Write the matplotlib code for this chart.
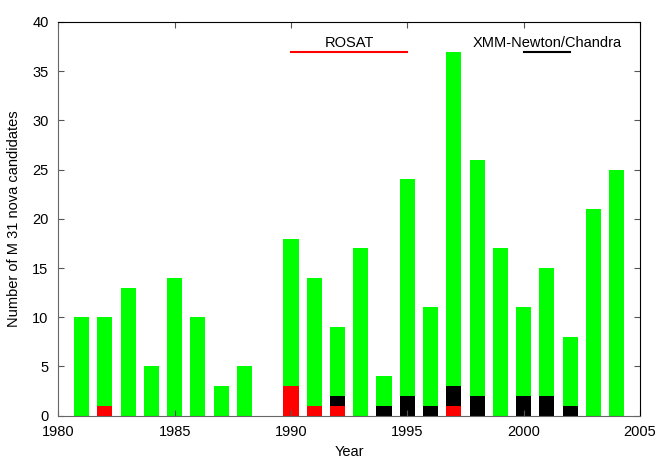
import matplotlib
matplotlib.use("Agg")
import matplotlib.pyplot as plt
import numpy as np

plt.rcParams['font.family'] = ['Liberation Sans', 'DejaVu Sans']

years = [1981, 1982, 1983, 1984, 1985, 1986, 1987, 1988, 1989, 1990, 1991, 1992,
         1993, 1994, 1995, 1996, 1997, 1998, 1999, 2000, 2001, 2002, 2003, 2004]
total = [10, 10, 13, 5, 14, 10, 3, 5, 0, 18, 14, 9,
         17, 4, 24, 11, 37, 26, 17, 11, 15, 8, 21, 25]
rosat = [0, 1, 0, 0, 0, 0, 0, 0, 0, 3, 1, 1,
         0, 0, 0, 0, 1, 0, 0, 0, 0, 0, 0, 0]
xmm = [0, 0, 0, 0, 0, 0, 0, 0, 0, 0, 0, 1,
       0, 1, 2, 1, 2, 2, 0, 2, 2, 1, 0, 0]

rosat_span = (1990, 1995)
xmm_span = (2000, 2002)

fig = plt.figure(figsize=(6.56, 4.61), dpi=100)
ax = fig.add_axes([0.0889, 0.0983, 0.9756 - 0.0889, 0.9523 - 0.0983])

fs = 10.5
w = 0.65
ax.bar(years, total, width=w, color='#00ff00', linewidth=0)
ax.bar(years, xmm, width=w, bottom=rosat, color='black', linewidth=0)
ax.bar(years, rosat, width=w, color='#ff0000', linewidth=0)

ax.plot(rosat_span, [37, 37], color='#ff0000', lw=1.5)
ax.plot(xmm_span, [37, 37], color='black', lw=1.5)
ax.text(np.mean(rosat_span), 37.9, 'ROSAT', ha='center', va='center', fontsize=fs)
ax.text(2001, 37.9, 'XMM-Newton/Chandra', ha='center', va='center', fontsize=fs)

ax.set_xlim(1980, 2005)
ax.set_ylim(0, 40)
ax.set_xticks(range(1980, 2006, 5))
ax.set_yticks(range(0, 41, 5))
ax.tick_params(direction='in', length=4, labelsize=fs, top=True, right=True, color='#555555')
ax.tick_params(axis='x', pad=7)
ax.tick_params(axis='y', pad=7)
for s in ['left', 'bottom']:
    ax.spines[s].set_color('#666666')
ax.set_xlabel('Year', fontsize=fs, labelpad=4)
ax.set_ylabel('Number of M 31 nova candidates', fontsize=fs, labelpad=8)

fig.savefig('out.png', dpi=100)
